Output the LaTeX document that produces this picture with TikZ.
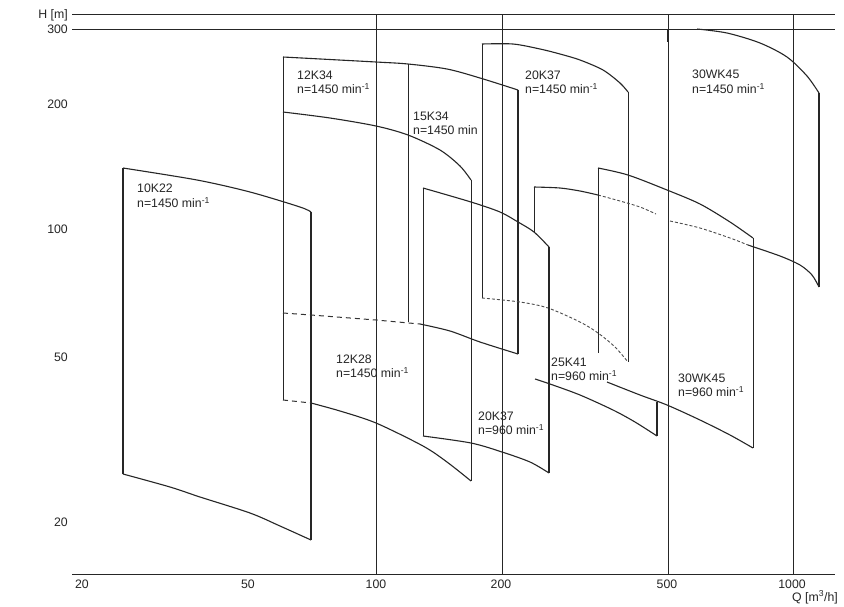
\documentclass[tikz,border=0pt]{standalone}
\usepackage{fontspec}
\setmainfont{Liberation Sans}
\begin{document}
\begin{tikzpicture}[x=1pt,y=-1pt,
  gridline/.style={line width=0.8pt, black!85},
  crv/.style={line width=1.1pt, black!85},
  edg/.style={line width=0.8pt, black!85},
  thickedg/.style={line width=1.8pt, black!85},
  dcrv/.style={line width=1.0pt, black!80, dash pattern=on 5pt off 4pt},
  fcrv/.style={line width=0.9pt, black!70, dash pattern=on 3pt off 2pt},
  lbl/.style={anchor=base west, inner sep=0pt, font=\fontsize{12.3}{14}\selectfont, text=black!85},
  ylbl/.style={anchor=base east, inner sep=0pt, font=\fontsize{12.3}{14}\selectfont, text=black!85},
  xlbl/.style={anchor=base, inner sep=0pt, font=\fontsize{12.3}{14}\selectfont, text=black!85}
]
\useasboundingbox[fill=white] (0,0) rectangle (844,606);

% axes and grid
\draw[gridline] (72,14) -- (835,14);
\draw[gridline] (72,29) -- (835,29);
\draw[gridline] (72,574) -- (835,574);
\foreach \gx in {376,502,668,793} \draw[gridline] (\gx,14) -- (\gx,574);

% y labels
\node[ylbl] (yH) at (68,18.5) {H [m]};
\node[ylbl] (y300) at (68,33.5) {300};
\node[ylbl] (y200) at (68,108.5) {200};
\node[ylbl] (y100) at (68,233.5) {100};
\node[ylbl] (y50) at (68,361.5) {50};
\node[ylbl] (y20) at (68,526.5) {20};
% x labels
\node[xlbl] (x20) at (82,588) {20};
\node[xlbl] (x50) at (248,588) {50};
\node[xlbl] (x100) at (376,588) {100};
\node[xlbl] (x200) at (501,588) {200};
\node[xlbl] (x500) at (667,588) {500};
\node[xlbl] (x1000) at (792,588) {1000};
\node[ylbl] (xQ) at (838,601) {Q [m\textsuperscript{3}/h]};

% ---- 10K22 ----
\draw[thickedg] (123,168) -- (123,474);
\draw[thickedg] (311,212) -- (311,540);
\draw[crv] plot[smooth] coordinates {(123,168) (197,180) (250,192) (300,207) (311,212)};
\draw[crv] plot[smooth] coordinates {(123,474) (170,487) (200,497) (250,513) (280,526) (311,540)};

% ---- 12K34 / 12K28 / 15K34 ----
\draw[edg] (283,57) -- (283,400);
\draw[thickedg] (518,90) -- (518,354);
\draw[edg] (471,180) -- (471,481);
\draw[edg] (408,64) -- (408,322);
\draw[crv] plot[smooth] coordinates {(283,57) (376,62) (408,64) (447,69) (480,78) (518,90)};
\draw[crv] plot[smooth] coordinates {(283,112) (330,118) (376,126) (408,135) (440,150) (460,166) (471,180)};
\draw[dcrv] (283,313) -- (311,315) -- (376,320) -- (420,324);
\draw[crv] plot[smooth] coordinates {(420,324) (450,331) (480,342) (518,354)};
\draw[dcrv] (283,400) -- (311,403);
\draw[crv] plot[smooth] coordinates {(311,403) (340,411) (376,423) (423,446) (447,462) (471,481)};

% ---- 20K37 n=1450 ----
\draw[edg] (482,44) -- (482,298);
\draw[edg] (628,92) -- (628,362);
\draw[crv] plot[smooth] coordinates {(482,44) (513,44) (540,49) (560,54) (580,60) (603,70) (620,83) (628,92)};
\draw[fcrv] plot[smooth] coordinates {(482,298) (520,302) (548,308) (580,322) (598,333) (615,347) (628,362)};

% ---- 20K37 n=960 ----
\draw[edg] (423,188) -- (423,436);
\draw[thickedg] (549,247) -- (549,473);
\draw[crv] plot[smooth] coordinates {(423,188) (471,202) (500,212) (518,222) (534,232) (549,247)};
\draw[crv] plot[smooth] coordinates {(423,436) (471,443) (502,452) (530,462) (549,473)};

% ---- 25K41 ----
\draw[edg] (534,187) -- (534,232);
\draw[crv] plot[smooth] coordinates {(534,187) (560,188) (580,191) (598,195)};
\draw[fcrv] plot[smooth] coordinates {(598,195) (620,201) (640,207) (656,214)};
\draw[thickedg] (657,402) -- (657,436);
\draw[crv] plot[smooth] coordinates {(535,379) (550,384) (580,395) (613,410) (635,422) (657,436)};

% ---- 30WK45 n=960 ----
\draw[edg] (598,168) -- (598,353);
\draw[edg] (753,238) -- (753,448);
\draw[crv] plot[smooth] coordinates {(598,168) (628,175) (667,190) (700,204) (730,222) (753,238)};
\draw[crv] plot[smooth] coordinates {(607,382) (640,395) (667,405) (700,420) (730,435) (753,448)};

% ---- 30WK45 n=1450 ----
\draw[thickedg] (668,29) -- (668,42);
\draw[thickedg] (819,93) -- (819,287);
\draw[crv] plot[smooth] coordinates {(697,29) (727,33) (760,43) (787,57) (807,76) (819,93)};
\draw[fcrv] plot[smooth] coordinates {(670,221) (700,228) (730,238) (748,245)};
\draw[crv] plot[smooth] coordinates {(748,245) (780,256) (800,265) (812,275) (819,287)};

% labels
\node[lbl] (l1a) at (137,192.5) {10K22};
\node[lbl] (l1b) at (137,207.5) {n=1450 min\textsuperscript{-1}};
\node[lbl] (l2a) at (297,79.5) {12K34};
\node[lbl] (l2b) at (297,93.5) {n=1450 min\textsuperscript{-1}};
\node[lbl] (l3a) at (413,120.5) {15K34};
\node[lbl] (l3b) at (413,134) {n=1450 min};
\node[lbl] (l4a) at (525,79) {20K37};
\node[lbl] (l4b) at (525,93.5) {n=1450 min\textsuperscript{-1}};
\node[lbl] (l5a) at (692,78.5) {30WK45};
\node[lbl] (l5b) at (692,93.5) {n=1450 min\textsuperscript{-1}};
\node[lbl] (l6a) at (336,363.5) {12K28};
\node[lbl] (l6b) at (336,377.5) {n=1450 min\textsuperscript{-1}};
\node[lbl] (l7a) at (478,420.5) {20K37};
\node[lbl] (l7b) at (478,434.5) {n=960 min\textsuperscript{-1}};
\node[lbl] (l8a) at (551,366.5) {25K41};
\node[lbl] (l8b) at (551,380.5) {n=960 min\textsuperscript{-1}};
\node[lbl] (l9a) at (678,382.5) {30WK45};
\node[lbl] (l9b) at (678,396.5) {n=960 min\textsuperscript{-1}};
\end{tikzpicture}
\end{document}
